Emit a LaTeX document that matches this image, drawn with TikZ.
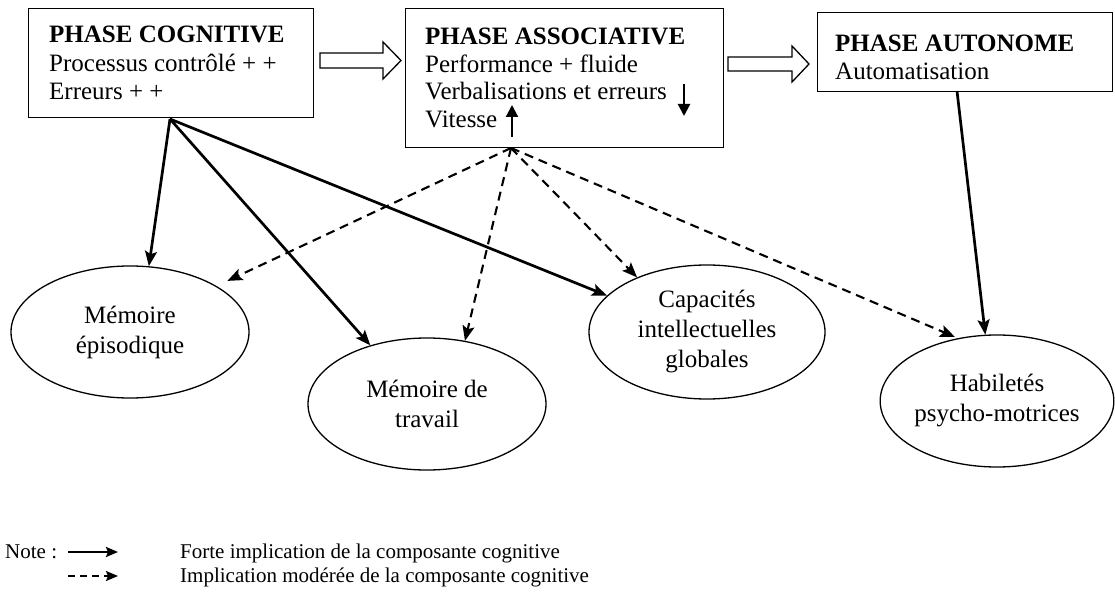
\documentclass[tikz,border=0pt]{standalone}
\usepackage{fontspec}
\setmainfont{Liberation Serif}
\usetikzlibrary{arrows.meta,calc,shapes.geometric}

\begin{document}
\begin{tikzpicture}[x=1pt,y=-1pt,
  phasebox/.style n args={2}{draw, line width=1.3pt, anchor=north west,
    minimum width=#1, minimum height=#2, inner sep=0pt},
  line/.style={anchor=base west, inner sep=0pt, font=\fontsize{25}{29}\selectfont},
  title/.style={line, font=\fontsize{25}{29}\selectfont\bfseries},
  comp/.style={draw, ellipse, line width=1.3pt, inner sep=0pt, align=center,
    font=\fontsize{25}{30}\selectfont},
  strong/.style={line width=2.7pt, -{Stealth[length=15pt,width=12pt,inset=3pt]}},
  moderate/.style={line width=2.1pt, dash pattern=on 9pt off 6pt,
    -{Stealth[length=15pt,width=12pt,inset=3pt]}},
  hollow/.style={draw, line width=1.3pt, fill=white, line join=miter},
  trend/.style={line width=2.2pt, -{Triangle[length=12pt,width=12pt]}},
  legend/.style={anchor=base west, inner sep=0pt, font=\fontsize{21}{24}\selectfont}]

\fill[white] (0,0) rectangle (1115,593);
\useasboundingbox (0,0) rectangle (1115,593);

% the three learning phases
\node[phasebox={285pt}{109pt}] (cog) at (28,8) {};
\node[title] (cog1) at (49,43) {PHASE COGNITIVE};
\node[line] (cog2) at (49,71.5) {Processus contrôlé + +};
\node[line] (cog3) at (49,100) {Erreurs + +};

\node[phasebox={318pt}{139pt}] (ass) at (405,8) {};
\node[title] (ass1) at (425,45) {PHASE ASSOCIATIVE};
\node[line] (ass2) at (425,72.5) {Performance + fluide};
\node[line] (ass3) at (425,100) {Verbalisations et erreurs};
\node[line] (ass4) at (425,128) {Vitesse};

\node[phasebox={295pt}{79pt}] (aut) at (817,12) {};
\node[title] (aut1) at (835,52) {PHASE AUTONOME};
\node[line] (aut2) at (835,80) {Automatisation};

% trend arrows inside the associative box
\draw[trend] (684,84) -- (684,116);
\draw[trend] (512,137) -- (512,105);

% hollow arrows between the phases
\draw[hollow] (320,53) -- (383,53) -- (383,42) -- (401,60.5) -- (383,79) -- (383,68) -- (320,68) -- cycle;
\draw[hollow] (728,57) -- (792,57) -- (792,46) -- (809,64) -- (792,82) -- (792,71) -- (728,71) -- cycle;

% cognitive components
\node[comp, minimum width=238pt, minimum height=132pt] (epi) at (130,332) {Mémoire\\épisodique};
\node[comp, minimum width=238pt, minimum height=132pt] (trav) at (427,404) {Mémoire de\\travail};
\node[comp, minimum width=236pt, minimum height=134pt] (cap) at (707,332) {Capacités\\intellectuelles\\globales};
\node[comp, minimum width=232pt, minimum height=132pt] (hab) at (997,401) {Habiletés\\psycho-motrices};

% sources of the connectors
\coordinate (cogsrc) at (170,119);
\coordinate (asssrc) at (511,148);
\coordinate (autsrc) at (957,91);

% strong implication
\draw[strong] (cogsrc) -- (epi.74);
\draw[strong] (cogsrc) -- (trav.134);
\draw[strong] (cogsrc) -- (cap.160);
\draw[strong] (autsrc) -- (hab.100);

% moderate implication
\draw[moderate, shorten >=12pt] (asssrc) -- (epi.28);
\draw[moderate] (asssrc) -- (trav.59);
\draw[moderate] (asssrc) -- (cap.142);
\draw[moderate, shorten >=3pt] (asssrc) -- (hab.122);

% legend
\node[legend] (note) at (5,558) {Note :};
\coordinate (ls1) at (68,552);
\coordinate (le1) at (118,552);
\coordinate (ls2) at (68,576);
\coordinate (le2) at (118,576);
\draw[line width=2.3pt, -{Stealth[length=12pt,width=10pt,inset=2pt]}] (ls1) -- (le1);
\draw[line width=1.9pt, dash pattern=on 7pt off 5pt, -{Stealth[length=12pt,width=10pt,inset=2pt]}] (ls2) -- (le2);
\node[legend] (leg1) at (180,558) {Forte implication de la composante cognitive};
\node[legend] (leg2) at (180,582) {Implication modérée de la composante cognitive};
\end{tikzpicture}
\end{document}
